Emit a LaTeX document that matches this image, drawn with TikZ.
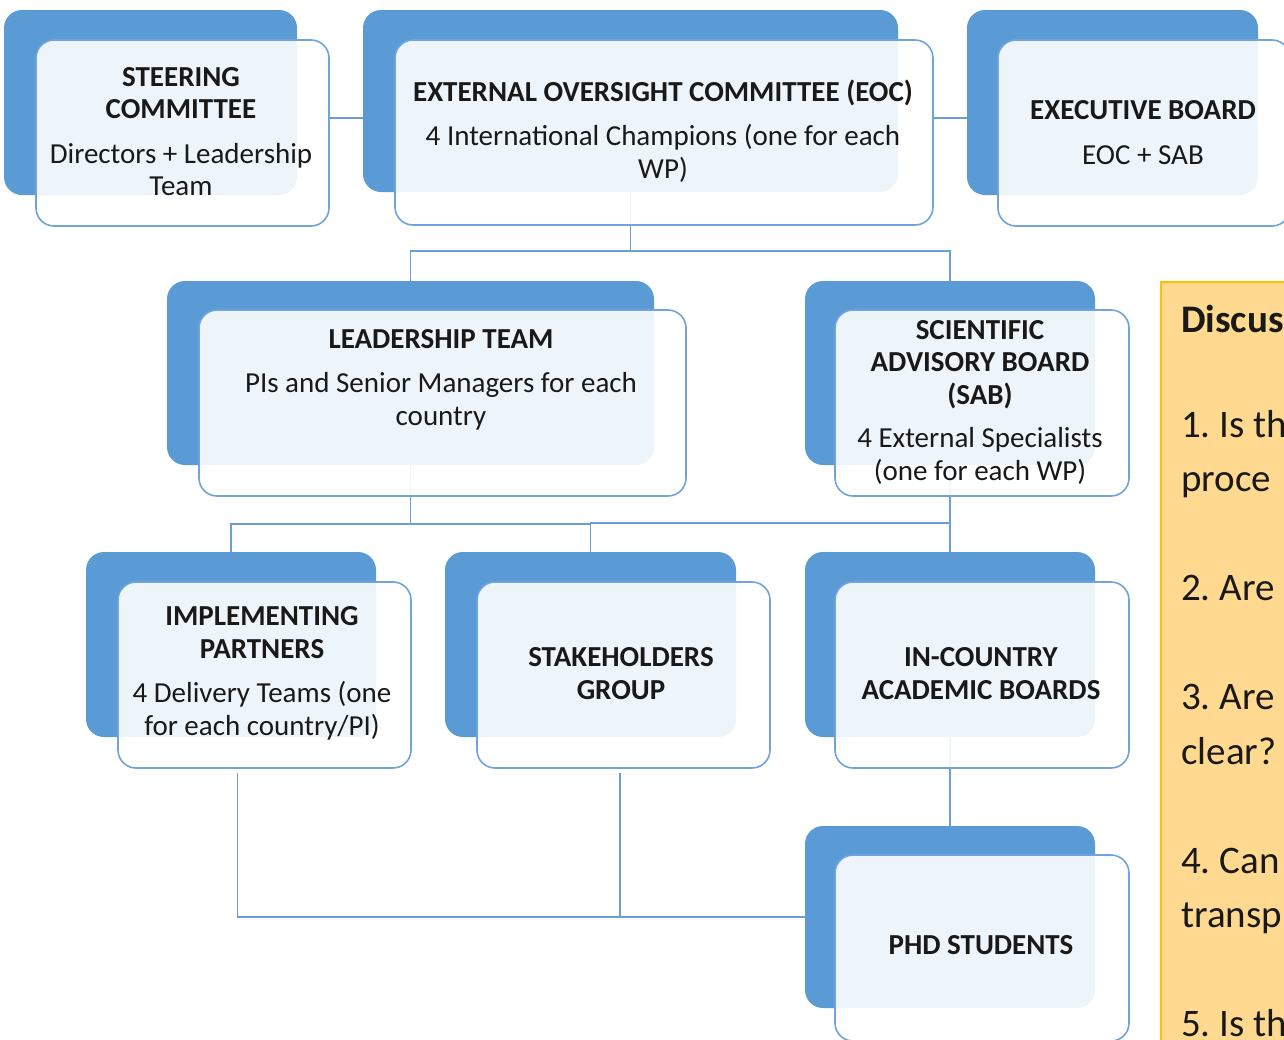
\documentclass[tikz,border=0pt]{standalone}
\usepackage{fontspec}
\setmainfont{Carlito}
\frenchspacing
\definecolor{accent}{HTML}{5B9BD5}
\definecolor{edgecol}{HTML}{6FA3DA}
\definecolor{wirecol}{HTML}{6A9FD6}
\definecolor{notefill}{HTML}{FFD98F}
\definecolor{noteedge}{HTML}{FFC000}
\begin{document}
\begin{tikzpicture}[x=1pt,y=-1pt,
  backbox/.style={fill=accent, rounded corners=18pt, inner sep=0pt, outer sep=0pt},
  frontbox/.style={fill=white, fill opacity=0.9, draw=edgecol, line width=1.6pt, rounded corners=18pt, inner sep=0pt, outer sep=0pt},
  wire/.style={draw=wirecol, line width=1.8pt},
  boxtext/.style={align=center, font=\fontsize{29}{32.5}\selectfont, inner sep=0pt, text=black!90},
  notetext/.style={anchor=base west, inner sep=0pt, font=\fontsize{39}{48}\selectfont, text=black!90}]
\useasboundingbox (0,0) rectangle (1284,1039);
\clip (0,0) rectangle (1284,1039);

% back boxes
\node[backbox, minimum width=293pt, minimum height=185pt] (scB) at (150.5,102.5) {};
\node[backbox, minimum width=535pt, minimum height=182pt] (eocB) at (630.5,101) {};
\node[backbox, minimum width=291pt, minimum height=185pt] (ebB) at (1112.5,102.5) {};
\node[backbox, minimum width=487pt, minimum height=184pt] (ltB) at (410.5,373) {};
\node[backbox, minimum width=290pt, minimum height=184pt] (sabB) at (950,373) {};
\node[backbox, minimum width=290pt, minimum height=185pt] (ipB) at (231,644.5) {};
\node[backbox, minimum width=291pt, minimum height=185pt] (sgB) at (590.5,644.5) {};
\node[backbox, minimum width=290pt, minimum height=185pt] (icB) at (950,644.5) {};
\node[backbox, minimum width=290pt, minimum height=182pt] (pbB) at (950,917) {};

% connector end points at the front boxes
\coordinate (scE) at (329,118);
\coordinate (eocE) at (933,118);
\coordinate (ipS) at (237.5,773);
\coordinate (sgS) at (620,773);

% connectors
\draw[wire] (scE) -- (scE -| eocB.west);
\draw[wire] (eocE) -- (eocE -| ebB.west);
\draw[wire] (eocB.south) -- ++(0,59) -| (ltB.north);
\draw[wire] (eocB.south) -- ++(0,59) -| (sabB.north);
\draw[wire] (ltB.south) -- ++(0,59) -| (ipB.north);
\draw[wire] (ltB.south) -- ++(0,59) -| (sgB.north);
\draw[wire] (sabB.south) -- (icB.north);
\draw[wire] ([yshift=-58pt]sabB.south) -| (sgB.north);
\draw[wire] (ipS) |- (pbB.west);
\draw[wire] (sgS) -- (sgS |- pbB.west);
\draw[wire] (icB.south) -- (pbB.north);

% front boxes
\node[frontbox, minimum width=293pt, minimum height=186pt] (scF) at (182.5,133) {};
\node[frontbox, minimum width=538pt, minimum height=185pt] (eocF) at (664,132.5) {};
\node[frontbox, minimum width=292pt, minimum height=186pt] (ebF) at (1144,133) {};
\node[frontbox, minimum width=487pt, minimum height=186pt] (ltF) at (442.5,403) {};
\node[frontbox, minimum width=294pt, minimum height=186pt] (sabF) at (982,403) {};
\node[frontbox, minimum width=293pt, minimum height=186pt] (ipF) at (264.5,675) {};
\node[frontbox, minimum width=293pt, minimum height=186pt] (sgF) at (623.5,675) {};
\node[frontbox, minimum width=294pt, minimum height=186pt] (icF) at (982,675) {};
\node[frontbox, minimum width=294pt, minimum height=186pt] (pbF) at (982,948) {};

% texts
\node[boxtext] (scT) at (181,131.5) {\textbf{STEERING}\\\textbf{COMMITTEE}\\[12pt]Directors + Leadership\\Team};
\node[boxtext] (eocT) at (663,131) {\textbf{EXTERNAL OVERSIGHT COMMITTEE (EOC)}\\[12pt]4 International Champions (one for each\\WP)};
\node[boxtext] (ebT) at (1143,132.5) {\textbf{EXECUTIVE BOARD}\\[12pt]EOC + SAB};
\node[boxtext] (ltT) at (441,379.5) {\textbf{LEADERSHIP TEAM}\\[12pt]PIs and Senior Managers for each\\country};
\node[boxtext] (sabT) at (980,402) {\textbf{SCIENTIFIC}\\\textbf{ADVISORY BOARD}\\\textbf{(SAB)}\\[11pt]4 External Specialists\\(one for each WP)};
\node[boxtext] (ipT) at (262,673.5) {\textbf{IMPLEMENTING}\\\textbf{PARTNERS}\\[12pt]4 Delivery Teams (one\\for each country/PI)};
\node[boxtext] (sgT) at (621,673.5) {\textbf{STAKEHOLDERS}\\\textbf{GROUP}};
\node[boxtext] (icT) at (981,673.5) {\textbf{IN-COUNTRY}\\\textbf{ACADEMIC BOARDS}};
\node[boxtext] (pbT) at (981,945) {\textbf{PHD STUDENTS}};

% discussion panel
\node[fill=notefill, draw=noteedge, line width=1.5pt, anchor=north west, minimum width=160pt, minimum height=800pt, inner sep=0pt] (note) at (1160,281) {};
\node[notetext] (n0) at (1181,332) {\textbf{Discus}};
\node[notetext] (n1) at (1181,437) {1. Is th};
\node[notetext] (n2) at (1181,491.5) {proce};
\node[notetext] (n3) at (1181,600.5) {2. Are};
\node[notetext] (n4) at (1181,709.5) {3. Are};
\node[notetext] (n5) at (1181,764) {clear?};
\node[notetext] (n6) at (1181,873) {4. Can};
\node[notetext] (n7) at (1181,927.5) {transp};
\node[notetext] (n8) at (1181,1036.5) {5. Is th};
\end{tikzpicture}
\end{document}
